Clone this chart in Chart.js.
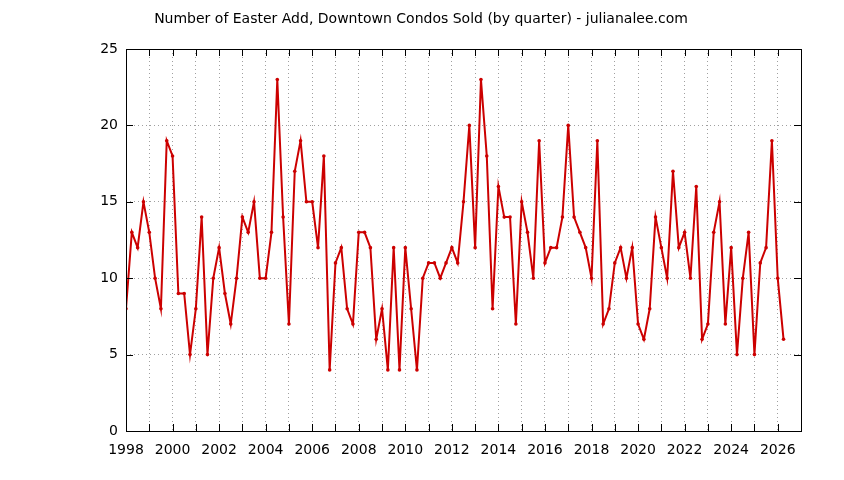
<!DOCTYPE html>
<html>
<head>
<meta charset="utf-8">
<script src="https://cdn.jsdelivr.net/npm/chart.js@4/dist/chart.umd.min.js"></script>
<style>
  html, body { margin: 0; padding: 0; background: #fff; }
  #wrap { width: 844px; height: 480px; }
</style>
</head>
<body>
<div id="wrap"><canvas id="canvas" width="844" height="480"></canvas></div>
<script>
// quarterly sales, first point is 1998 Q1
let firstYear = 1998;
let sold = [
    8, 13, 12, 15, 13, 10, 8, 19,      // 1998 - 1999
    18, 9, 9, 5, 8, 14, 5, 10,         // 2000 - 2001
    12, 9, 7, 10, 14, 13, 15, 10,      // 2002 - 2003
    10, 13, 23, 14, 7, 17, 19, 15,     // 2004 - 2005
    15, 12, 18, 4, 11, 12, 8, 7,       // 2006 - 2007
    13, 13, 12, 6, 8, 4, 12, 4,        // 2008 - 2009
    12, 8, 4, 10, 11, 11, 10, 11,      // 2010 - 2011
    12, 11, 15, 20, 12, 23, 18, 8,     // 2012 - 2013
    16, 14, 14, 7, 15, 13, 10, 19,     // 2014 - 2015
    11, 12, 12, 14, 20, 14, 13, 12,    // 2016 - 2017
    10, 19, 7, 8, 11, 12, 10, 12,      // 2018 - 2019
    7, 6, 8, 14, 12, 10, 17, 12,       // 2020 - 2021
    13, 10, 16, 6, 7, 13, 15, 7,       // 2022 - 2023
    12, 5, 10, 13, 5, 11, 12, 19,      // 2024 - 2025
    10, 6                              // 2026
];
let xTickLabels = [1998, 2000, 2002, 2004, 2006, 2008, 2010, 2012, 2014, 2016, 2018, 2020, 2022, 2024, 2026];
let yTickLabels = [0, 5, 10, 15, 20, 25];
let titleText = 'Number of Easter Add, Downtown Condos Sold (by quarter) - julianalee.com';

let points = sold.map((v, i) => ({ x: firstYear + i / 4, y: v }));

const FONT = '"DejaVu Sans", Verdana, sans-serif';
Chart.defaults.font.family = FONT;
Chart.defaults.font.size = 14;
Chart.defaults.color = '#000';

// gnuplot style frame: inward ticks on all four sides + title
let frame = {
    id: 'frame',
    afterDraw(chart) {
        let c = chart.ctx;
        let a = chart.chartArea;
        let xs = chart.scales.x;
        let ys = chart.scales.y;
        c.save();
        c.strokeStyle = '#000';
        c.lineWidth = 1;
        c.beginPath();
        for (let yr = 1999; yr < 2027; yr++) {
            let px = Math.round(xs.getPixelForValue(yr)) + 0.5;
            c.moveTo(px, a.bottom); c.lineTo(px, a.bottom - 7);
            c.moveTo(px, a.top); c.lineTo(px, a.top + 7);
        }
        yTickLabels.forEach(v => {
            let py = Math.round(ys.getPixelForValue(v)) + 0.5;
            c.moveTo(a.left, py); c.lineTo(a.left + 7, py);
            c.moveTo(a.right, py); c.lineTo(a.right - 7, py);
        });
        c.stroke();
        c.strokeRect(Math.round(a.left) + 0.5, Math.round(a.top) + 0.5,
            Math.round(a.right - a.left), Math.round(a.bottom - a.top));

        c.fillStyle = '#000';
        c.font = '14px ' + FONT;
        c.textAlign = 'center';
        c.textBaseline = 'middle';
        c.fillText(titleText, 421, 19);
        c.restore();
    }
};

let ctx = document.getElementById('canvas').getContext('2d');

let chart = new Chart(ctx, {
    type: 'line',
    data: {
        datasets: [{
            label: 'Condos sold',
            data: points,
            borderColor: '#cc0000',
            backgroundColor: '#cc0000',
            borderWidth: 2,
            pointRadius: 1.8,
            pointBorderWidth: 0,
            tension: 0,
        }],
    },
    options: {
        responsive: false,
        animation: false,
        layout: { padding: 0 },
        plugins: {
            legend: { display: false },
            title: { display: false },
            tooltip: { enabled: false },
        },
        scales: {
            x: {
                type: 'linear',
                position: 'bottom',
                min: 1998,
                max: 2027,
                afterFit: s => { s.height = 49; },
                afterBuildTicks: s => {
                    let t = [];
                    for (let yr = 1998; yr <= 2027; yr++) t.push({ value: yr });
                    s.ticks = t;
                },
                ticks: {
                    autoSkip: false,
                    maxRotation: 0,
                    padding: 11,
                    callback: v => xTickLabels.includes(v) ? String(v) : '',
                },
                grid: { color: '#a0a0a0', lineWidth: 1, drawTicks: false },
                border: { display: false, dash: [1, 3] },
            },
            xTop: {
                type: 'linear',
                position: 'top',
                min: 1998,
                max: 2027,
                afterFit: s => { s.height = 49; },
                ticks: { display: false },
                grid: { display: false, drawTicks: false },
                border: { display: false },
            },
            y: {
                position: 'left',
                min: 0,
                max: 25,
                afterFit: s => { s.width = 126; },
                ticks: { stepSize: 5, padding: 8 },
                grid: { color: '#a0a0a0', lineWidth: 1, drawTicks: false },
                border: { display: false, dash: [1, 3] },
            },
            yRight: {
                position: 'right',
                min: 0,
                max: 25,
                afterFit: s => { s.width = 43; },
                ticks: { display: false },
                grid: { display: false, drawTicks: false },
                border: { display: false },
            },
        },
    },
    plugins: [frame],
});
</script>
</body>
</html>
